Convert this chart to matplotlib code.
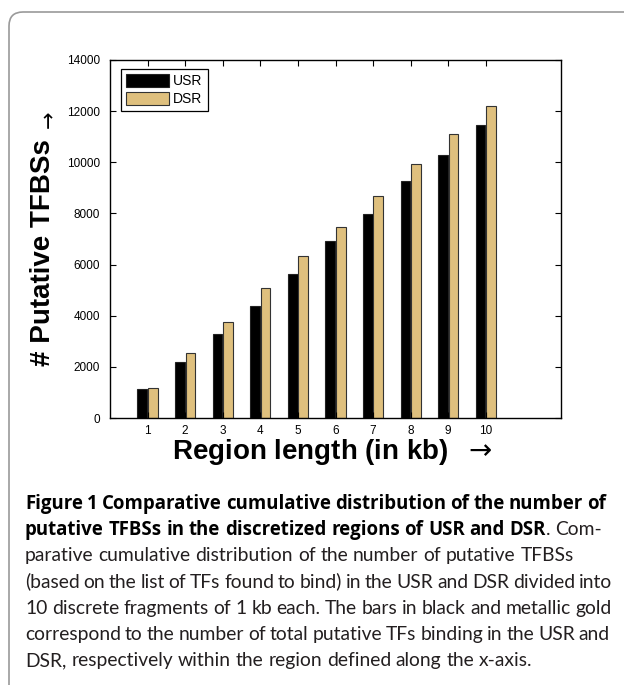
import matplotlib
matplotlib.use("Agg")
import matplotlib.pyplot as plt
import numpy as np
from matplotlib.patches import FancyBboxPatch
from matplotlib.transforms import IdentityTransform

# values
regions = [1, 2, 3, 4, 5, 6, 7, 8, 9, 10]
usr = [1120, 2200, 3270, 4390, 5640, 6920, 7960, 9280, 10270, 11470]
dsr = [1160, 2530, 3770, 5080, 6330, 7480, 8700, 9930, 11090, 12210]
yticks = [0, 2000, 4000, 6000, 8000, 10000, 12000, 14000]

# caption lines; "|" splits bold from regular inside a word.
# right edge in px for justified lines (None = ragged)
caption = [
    ("Figure 1 Comparative cumulative distribution of the number of", "bold", 606),
    ("putative TFBSs in the discretized regions of USR and DSR|. Com-", "mixed", 602),
    ("parative cumulative distribution of the number of putative TFBSs", "normal", None),
    ("(based on the list of TFs found to bind) in the USR and DSR divided into", "normal", 612),
    ("10 discrete fragments of 1 kb each. The bars in black and metallic gold", "normal", 612),
    ("correspond to the number of total putative TFs binding in the USR and", "normal", 610),
    ("DSR, respectively within the region defined along the x-axis.", "normal", None),
]

gold = "#dfc07e"
W, H = 624, 685

fig = plt.figure(figsize=(W / 100, H / 100), dpi=100)
ax = fig.add_axes([110 / W, 1 - 418 / H, 451 / W, 358 / H])

x = np.array(regions)
bw = 0.26
ax.bar(x - 0.14, usr, bw, color="black", edgecolor="#222222", lw=0.8, label="USR")
ax.bar(x + 0.14, dsr, bw, color=gold, edgecolor="#333333", lw=0.8, label="DSR")

ax.set_xlim(0, 12)
ax.set_ylim(0, 14000)
ax.set_xticks(regions)
ax.set_yticks(yticks)
ax.tick_params(direction="in", length=4, width=0.8, top=True, right=True,
               labelsize=8.5)
ax.tick_params(axis="x", pad=5)
ax.tick_params(axis="y", pad=7)
for lab in ax.get_xticklabels() + ax.get_yticklabels():
    lab.set_family("Liberation Sans")
for sp in ax.spines.values():
    sp.set_linewidth(1.0)

leg = ax.legend(loc="upper left", bbox_to_anchor=(0.025, 0.975), fancybox=False,
                edgecolor="black", framealpha=1, handlelength=3.1, handleheight=1.05,
                borderpad=0.35, labelspacing=0.3, handletextpad=0.3, borderaxespad=0,
                prop={"family": "Liberation Sans", "size": 10})
leg.get_frame().set_linewidth(0.9)

ax.set_ylabel("# Putative TFBSs", fontsize=20, fontweight="bold",
              family="Liberation Sans", va="center")
ax.yaxis.set_label_coords(-0.1486, 0.462)
fig.text(49 / W, 1 - 119 / H, "\u2192", rotation=90, ha="center", va="center",
         fontsize=15, family="DejaVu Sans")
ax.set_xlabel(r"Region length (in kb)  $\rightarrow$", fontsize=20, fontweight="bold",
              family="Liberation Sans", va="center")
ax.xaxis.set_label_coords(0.494, -0.095)

# rounded frame around figure + caption
fig.add_artist(FancyBboxPatch((9, -30), 660, H - 12 + 30,
                              boxstyle="round,pad=0,rounding_size=14",
                              transform=IdentityTransform(), facecolor="none",
                              edgecolor="#9a9a9a", lw=1.2))

# caption, set word by word so the justified lines fill the width
renderer = fig.canvas.get_renderer()
x_left = 25
base0 = 509
dy = 26.2


def make(s, wt):
    if wt == "bold":
        return fig.text(0, 0, s, fontweight="bold", family="Open Sans", size=13.4,
                        color="black", va="baseline", transform=IdentityTransform())
    return fig.text(0, 0, s, family="Lato", size=13.9, color="#231f20",
                    va="baseline", transform=IdentityTransform())


def width(t):
    return t.get_window_extent(renderer).width


a1, a2 = make("a a", "normal"), make("aa", "normal")
space = width(a1) - width(a2)
a1.remove()
a2.remove()

for i, (line, kind, right) in enumerate(caption):
    ypix = H - (base0 + i * dy)
    words = []
    for w in line.split(" "):
        if kind == "mixed":
            if "|" in w:
                a, b = w.split("|")
                words.append([(a, "bold"), (b, "normal")])
            elif w == "Com-":
                words.append([(w, "normal")])
            else:
                words.append([(w, "bold")])
        else:
            words.append([(w, kind)])
    arts = []
    widths = []
    for word in words:
        runs = []
        ww = 0
        for s, wt in word:
            t = make(s, wt)
            runs.append((t, ww))
            ww += width(t)
        arts.append(runs)
        widths.append(ww)
    if right is None:
        gap = space
    else:
        gap = (right - x_left - sum(widths)) / (len(words) - 1)
    xp = x_left
    for runs, wd in zip(arts, widths):
        for t, off in runs:
            t.set_position((xp + off, ypix))
        xp += wd + gap

fig.savefig("out.png", dpi=100)
